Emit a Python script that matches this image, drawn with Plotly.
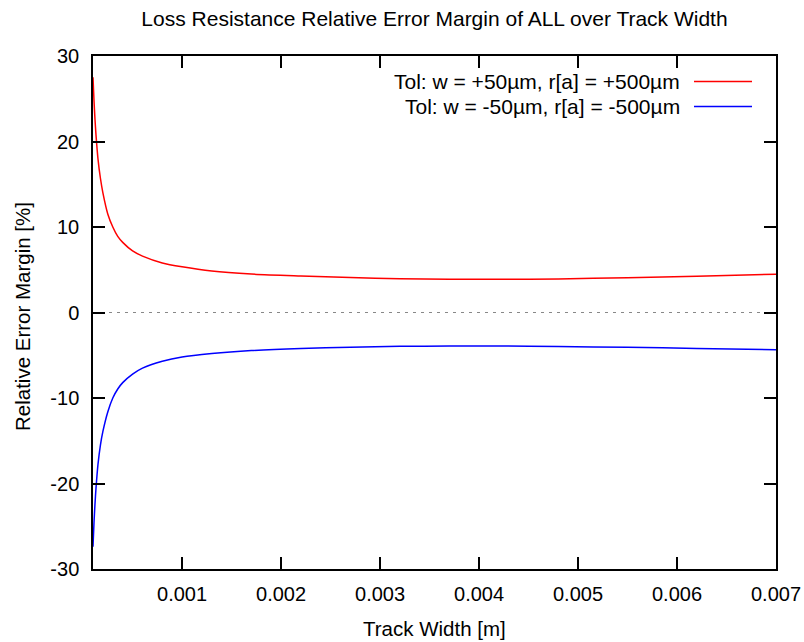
import plotly.graph_objects as go

track_width = [0.0001, 0.00011, 0.00012, 0.00013, 0.00015, 0.000175, 0.0002, 0.00025, 0.0003,
               0.00035, 0.0004, 0.0005, 0.0006, 0.0008, 0.001, 0.0013, 0.0017, 0.0022,
               0.0027, 0.0032, 0.0037, 0.0042, 0.0048, 0.0055, 0.0062, 0.007]
err_plus = [27.5, 24.8, 22.6, 20.8, 18.0, 15.7, 14.0, 11.5, 10.0,
            8.9, 8.2, 7.2, 6.6, 5.8, 5.35, 4.85, 4.5, 4.27,
            4.08, 3.95, 3.89, 3.88, 3.93, 4.07, 4.25, 4.47]
err_minus = [-27.4, -24.6, -22.4, -20.6, -17.8, -15.5, -13.9, -11.6, -10.0,
             -8.95, -8.2, -7.2, -6.5, -5.7, -5.2, -4.8, -4.45, -4.2,
             -4.05, -3.96, -3.92, -3.92, -3.98, -4.07, -4.2, -4.35]
label_plus = "Tol: w = +50µm, r[a] = +500µm"
label_minus = "Tol: w = -50µm, r[a] = -500µm"
x_ticks = [0.001, 0.002, 0.003, 0.004, 0.005, 0.006, 0.007]
x_ticktext = ["0.001", "0.002", "0.003", "0.004", "0.005", "0.006", "0.007"]
y_ticks = [-30, -20, -10, 0, 10, 20, 30]
y_ticktext = ["-30", "-20", "-10", "0", "10", "20", "30"]

FONT = "Liberation Sans, Arial, sans-serif"
W, H = 804, 642
L, R, T, B = 93, 28, 56, 73
PW, PH = W - L - R, H - T - B


def px_x(x):
    return (x - L) / PW


def px_y(y):
    return 1 - (y - T) / PH


fig = go.Figure()
fig.add_trace(go.Scatter(x=track_width, y=err_plus, mode="lines", name=label_plus,
                         line=dict(color="#ff0000", width=1.5, shape="spline", smoothing=0.7),
                         showlegend=False))
fig.add_trace(go.Scatter(x=track_width, y=err_minus, mode="lines", name=label_minus,
                         line=dict(color="#0000ff", width=1.5, shape="spline", smoothing=0.7),
                         showlegend=False))

# zero axis (dotted gray)
fig.add_shape(type="line", xref="paper", yref="y", x0=0, x1=1, y0=0, y1=0,
              line=dict(color="#888888", width=1.2, dash="3px,5px"), layer="below")

# legend (gnuplot style: text right-aligned, sample line on the right)
for i, (lab, col) in enumerate([(label_plus, "#ff0000"), (label_minus, "#0000ff")]):
    yp = px_y(81.5 + i * 25)
    fig.add_annotation(xref="paper", yref="paper", x=px_x(682), y=yp,
                       text=lab, showarrow=False, xanchor="right", yanchor="middle",
                       font=dict(family=FONT, size=21, color="black"))
    fig.add_shape(type="line", xref="paper", yref="paper",
                  x0=px_x(694), x1=px_x(752), y0=yp, y1=yp,
                  line=dict(color=col, width=1.5))

# axis titles
fig.add_annotation(xref="paper", yref="paper", x=0.5, y=px_y(628),
                   text="Track Width [m]", showarrow=False, xanchor="center", yanchor="middle",
                   font=dict(family=FONT, size=20.5, color="black"))
fig.add_annotation(xref="paper", yref="paper", x=px_x(22), y=px_y(317), textangle=-90,
                   text="Relative Error Margin [%]", showarrow=False,
                   xanchor="center", yanchor="middle",
                   font=dict(family=FONT, size=20.5, color="black"))

fig.update_layout(
    width=W, height=H,
    margin=dict(l=L, r=R, t=T, b=B),
    paper_bgcolor="white", plot_bgcolor="white",
    font=dict(family=FONT, size=20, color="black"),
    title=dict(text="Loss Resistance Relative Error Margin of ALL over Track Width",
               x=(L + W - R) / 2 / W, xanchor="center", y=1 - 19 / H, yanchor="middle",
               yref="container", font=dict(family=FONT, size=21, color="black")),
    xaxis=dict(range=[0.0001, 0.007], tickvals=x_ticks, ticktext=x_ticktext,
               ticks="inside", ticklen=12, tickwidth=1.5, tickcolor="black",
               showline=True, linecolor="black", linewidth=1.5, mirror="ticks",
               showgrid=False, zeroline=False, ticklabelstandoff=6, automargin=False,
               tickfont=dict(family=FONT, size=20, color="black")),
    yaxis=dict(range=[-30, 30], tickvals=y_ticks, ticktext=y_ticktext,
               ticks="inside", ticklen=12, tickwidth=1.5, tickcolor="black",
               showline=True, linecolor="black", linewidth=1.5, mirror="ticks",
               showgrid=False, zeroline=False, ticklabelstandoff=8, automargin=False,
               tickfont=dict(family=FONT, size=20, color="black")),
)

fig.write_html("out.html")
